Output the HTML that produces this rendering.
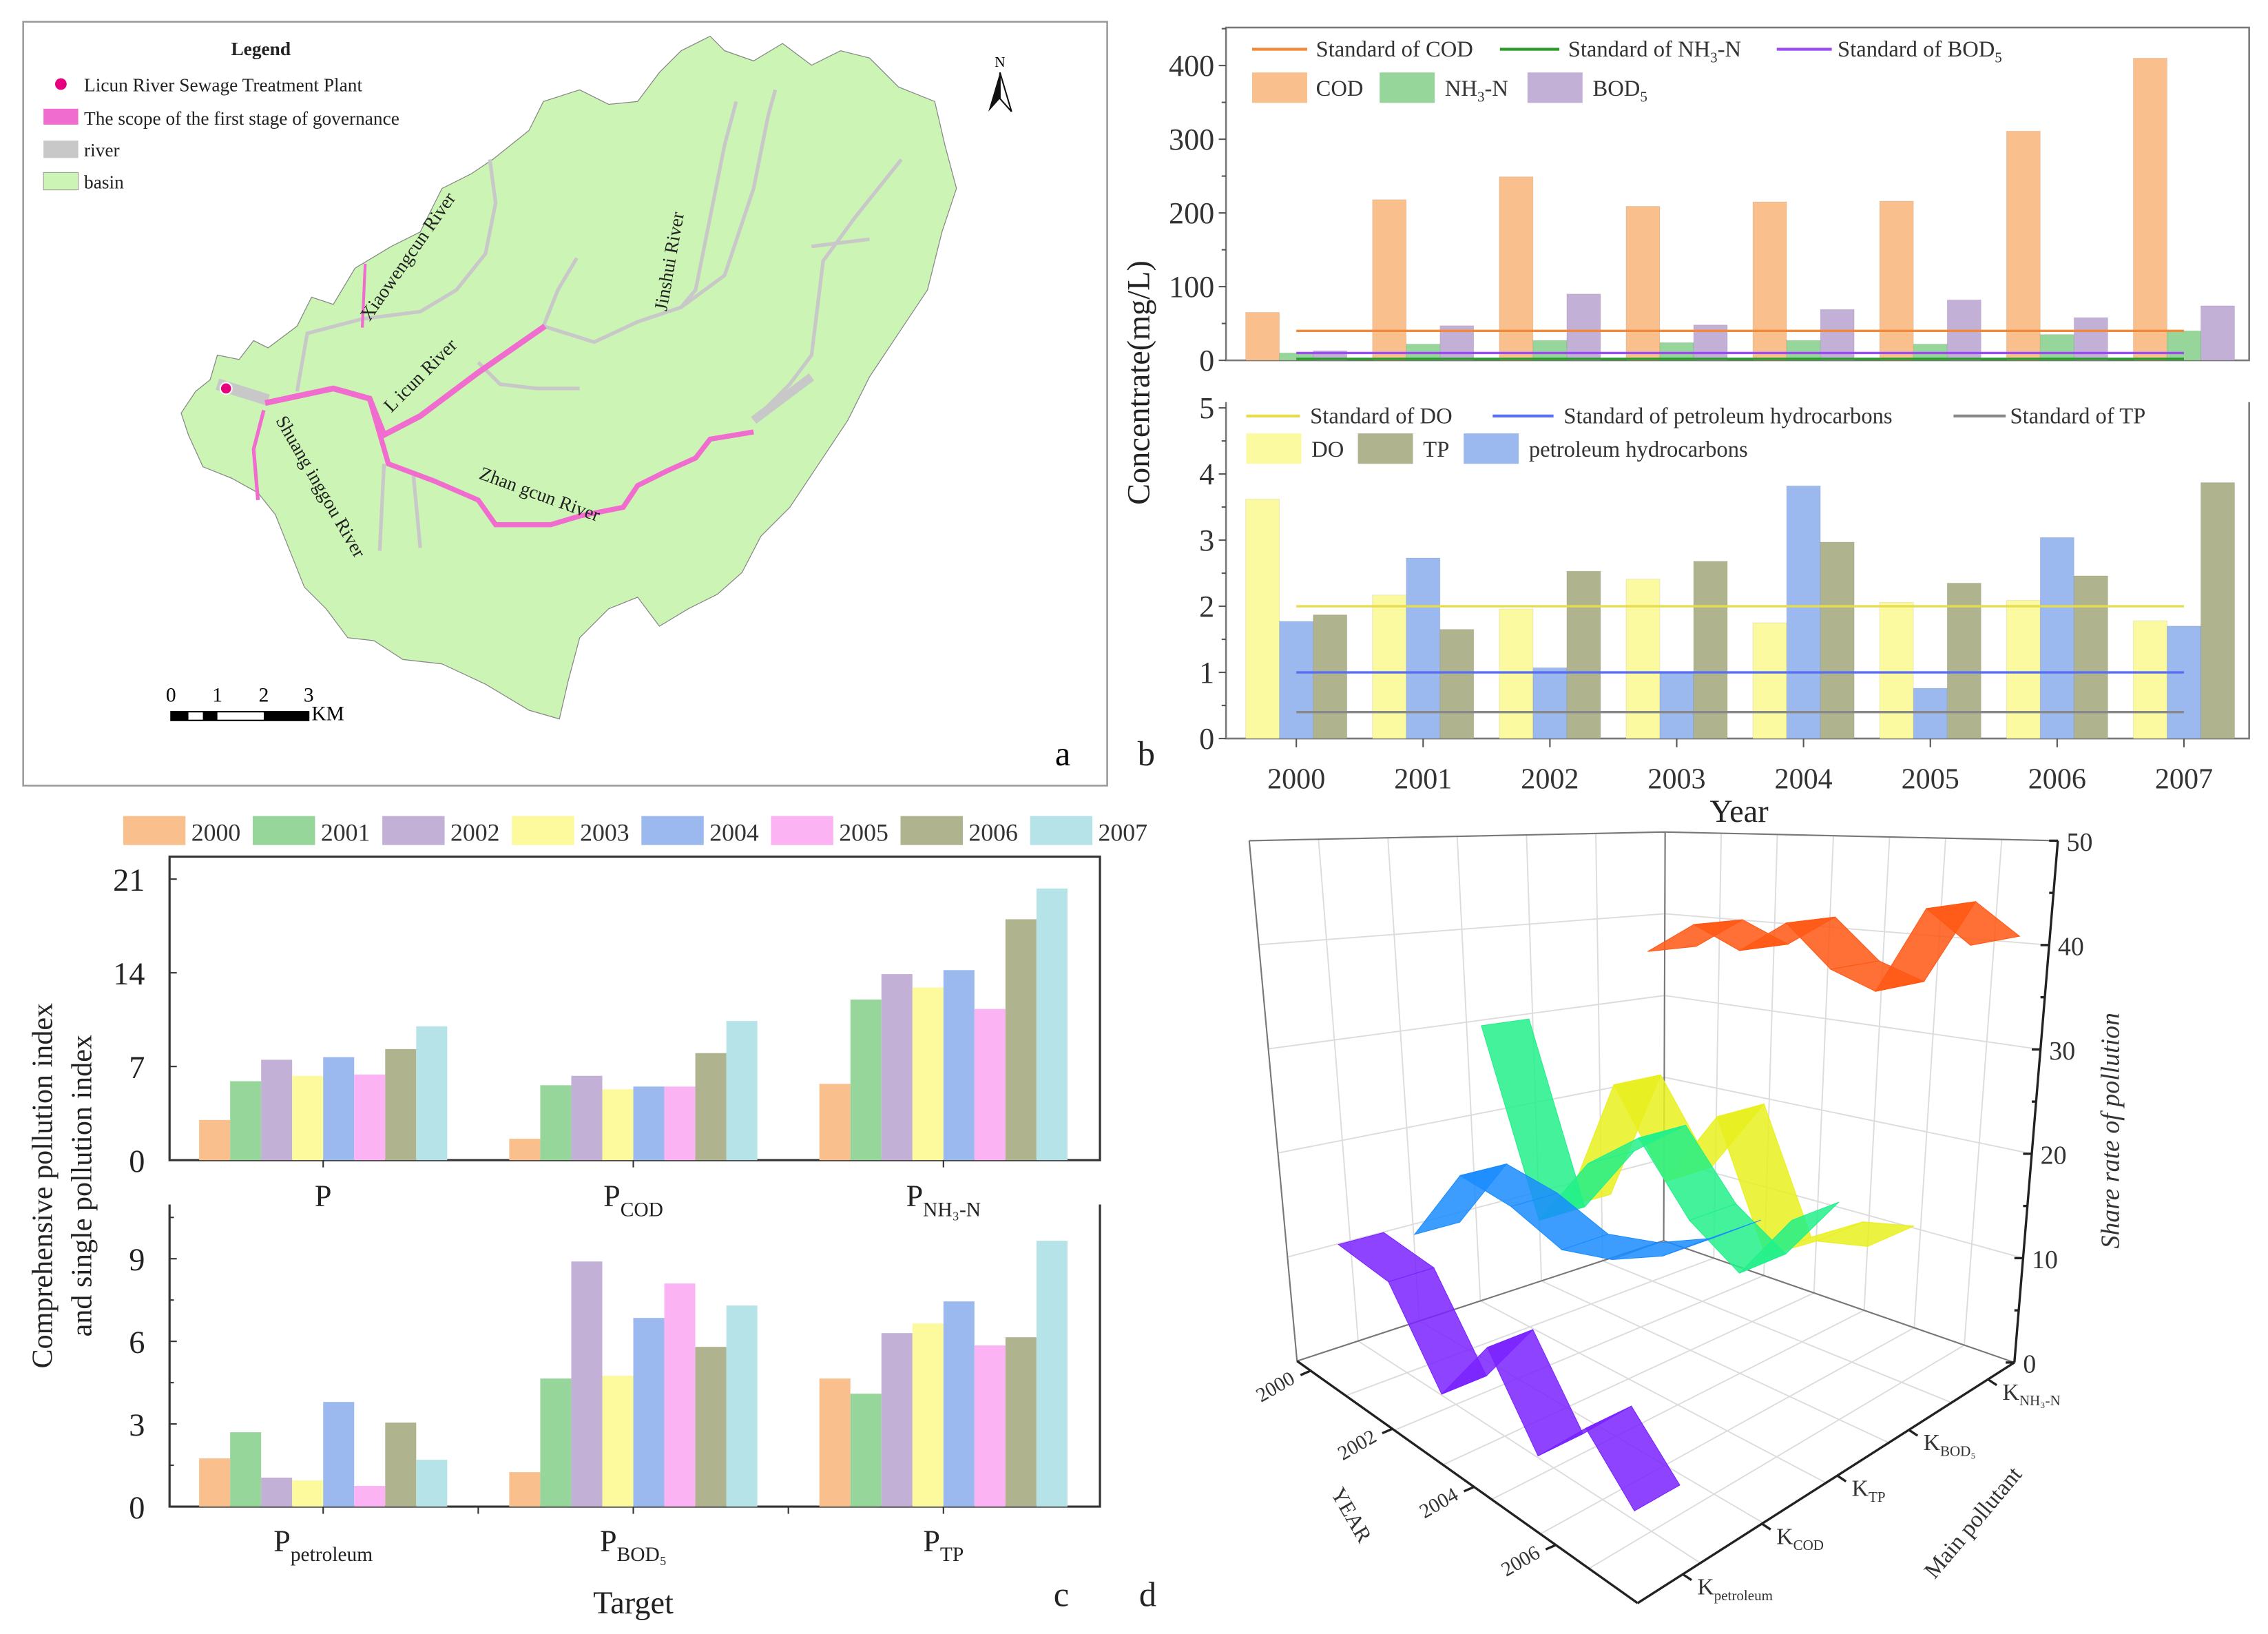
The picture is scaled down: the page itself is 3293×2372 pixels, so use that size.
<!DOCTYPE html>
<html><head><meta charset="utf-8"><style>
html,body{margin:0;padding:0;background:#fff;}
svg{display:block;}
text{font-family:"Liberation Serif",serif;}
</style></head><body>
<svg id="fig" xmlns="http://www.w3.org/2000/svg" width="3293" height="2372" viewBox="0 0 1565 1127.3" preserveAspectRatio="none" font-family="Liberation Serif, serif">
<rect x="0" y="0" width="1565" height="1127.3" fill="#fff"/>
<g>
<rect x="16" y="15" width="748" height="527" fill="#fff" stroke="#999" stroke-width="1.2"/>
<polygon fill="#ccf5b5" stroke="#888" stroke-width="0.6" points="145,262 150,245 165,248 175,235 185,240 205,225 215,205 230,210 245,185 270,170 290,160 305,130 325,120 340,110 365,90 375,70 400,62 420,72 440,70 455,50 470,35 490,25 500,35 520,42 540,30 560,45 580,35 600,40 620,60 645,70 652,100 660,130 650,160 640,200 620,230 600,260 585,290 565,320 545,350 525,370 512,395 495,410 475,420 455,432 440,412 420,420 400,440 392,470 386,496 365,490 335,472 305,458 278,455 258,442 240,440 225,420 210,405 200,380 190,355 178,340 160,330 140,322 130,300 125,285 135,270"/>
<g fill="none" stroke="#c8c8c8" stroke-width="2.5">
<polyline points="205,270 212,230 250,220 290,215 315,200 335,175 342,140 338,110"/>
<polyline points="375,225 410,236 440,222 470,212 480,200 490,150 500,100 508,70"/>
<polyline points="470,212 500,190 520,130 530,80 535,62"/>
<polyline points="520,290 545,265 560,245 568,180 590,150 622,110"/>
<polyline points="560,170 600,165"/>
<polyline points="265,320 262,380"/>
<polyline points="285,325 290,378"/>
<polyline points="330,250 345,265 370,268 400,268"/>
<polyline points="375,225 385,200 398,178"/>
<polyline points="520,290 560,260" stroke-width="6"/>
<polyline points="150,265 185,276" stroke-width="8"/>
</g>
<g fill="none" stroke="#f06ccf">
<polyline points="183,278 230,268 255,275 265,300 290,287 330,257 376,225" stroke-width="4"/>
<polyline points="255,275 268,320 300,332 330,345 342,362 380,362 400,356 430,350 440,335 460,325 480,316 490,303 520,298" stroke-width="3.5"/>
<polyline points="182,283 175,310 178,345" stroke-width="2.5"/>
<polyline points="250,226 252,182" stroke-width="2"/>
</g>
<circle cx="156" cy="268" r="4" fill="#e6007e" stroke="#fff" stroke-width="1"/>
<g font-size="13" fill="#222">
<text x="255" y="222" transform="rotate(-55 255 222)">Xiaowengcun River</text>
<text x="460" y="215" transform="rotate(-80 460 215)">Jinshui River</text>
<text x="270" y="285" transform="rotate(-45 270 285)">L  icun River</text>
<text x="190" y="290" transform="rotate(60 190 290)">Shuang inggou River</text>
<text x="330" y="330" transform="rotate(20 330 330)">Zhan gcun River</text>
</g>
<g font-size="13" fill="#222">
<text x="180" y="38" font-weight="bold" text-anchor="middle">Legend</text>
<circle cx="42" cy="58" r="4" fill="#e6007e"/>
<text x="58" y="63">Licun River Sewage Treatment Plant</text>
<rect x="30" y="75" width="24" height="11" fill="#f06ccf"/>
<text x="58" y="86">The scope of the first stage of governance</text>
<rect x="30" y="97" width="24" height="12" fill="#c8c8c8"/>
<text x="58" y="108">river</text>
<rect x="30" y="119" width="24" height="12" fill="#ccf5b5" stroke="#999" stroke-width="0.5"/>
<text x="58" y="130">basin</text>
</g>
<g>
<text x="690" y="46" font-size="10" text-anchor="middle">N</text>
<polygon points="690,50 682,77 690,68" fill="#111"/><polygon points="690,50 698,77 690,68" fill="#fff" stroke="#111" stroke-width="1"/>
</g>
<g font-size="14">
<rect x="118" y="491" width="95" height="6" fill="#fff" stroke="#000" stroke-width="1"/>
<rect x="118" y="491" width="12" height="6" fill="#000"/><rect x="140" y="491" width="10" height="6" fill="#000"/><rect x="182" y="491" width="31" height="6" fill="#000"/>
<text x="118" y="484" text-anchor="middle">0</text><text x="150" y="484" text-anchor="middle">1</text><text x="182" y="484" text-anchor="middle">2</text><text x="213" y="484" text-anchor="middle">3</text>
<text x="215" y="497">KM</text>
</g>
<text x="728" y="528" font-size="24" font-family="Liberation Sans, sans-serif">a</text>
</g>
<g id="pb"></g>
<g id="pc"></g>
<g id="pd"></g>
</svg>
<script>
// ---------- Panel b data ----------
const yearsB = ['2000','2001','2002','2003','2004','2005','2006','2007'];
const codVals = [65,218,249,209,215,216,311,410];
const nh3Vals = [10,22,27,24,27,22,35,40];
const bodVals = [13,47,90,48,69,82,58,74];
const stdCOD = 40, stdNH3 = 2, stdBOD = 10;
const doVals = [3.62,2.17,1.96,2.41,1.75,2.06,2.09,1.78];
const petVals = [1.77,2.73,1.07,1.0,3.82,0.76,3.04,1.70];
const tpVals = [1.87,1.65,2.53,2.68,2.97,2.35,2.46,3.87];
const stdDO = 2, stdPet = 1, stdTP = 0.4;
const topTicks = [0,100,200,300,400];
const botTicks = [0,1,2,3,4,5];
// ---------- Panel c data ----------
const yearsC = ['2000','2001','2002','2003','2004','2005','2006','2007'];
const catsTop = ['P','COD','NH₃-N'];
const catsBot = ['petroleum','BOD₅','TP'];
const idxP = [3.0,5.9,7.5,6.3,7.7,6.4,8.3,10.0];
const idxCOD = [1.6,5.6,6.3,5.3,5.5,5.5,8.0,10.4];
const idxNH3 = [5.7,12.0,13.9,12.9,14.2,11.3,18.0,20.3];
const idxPet = [1.75,2.7,1.05,0.95,3.8,0.75,3.05,1.7];
const idxBOD = [1.25,4.65,8.9,4.75,6.85,8.1,5.8,7.3];
const idxTP = [4.65,4.1,6.3,6.65,7.45,5.85,6.15,9.65];
const cTicksTop = [0,7,14,21];
const cTicksBot = [0,3,6,9];
// ---------- Panel d data ----------
const yearTicksD = ['2000','2002','2004','2006'];
const pollutantsD = ['petroleum','COD','TP','BOD₅','NH₃-N'];
const sharePet = [11,10,2.5,9,2.5,7,3];
const shareCOD = [10,18,17,15,16,18,21];
const shareTP = [30,11.5,19,23,17,14,20];
const shareBOD = [8.5,23.6,15,23,11,14,15];
const shareNH3 = [36,39.7,37.3,40.8,36.4,34.7,43.4,40.2];
const zTicks = [0,10,20,30,40,50];

const NS='http://www.w3.org/2000/svg';
function mk(tag, attrs, parent){const e=document.createElementNS(NS,tag);for(const k in attrs)e.setAttribute(k,attrs[k]);parent.appendChild(e);return e;}
function txt(s,attrs,parent){const e=mk('text',attrs,parent);if(!attrs['font-family'])e.setAttribute('font-family','Liberation Serif, serif');e.textContent=s;return e;}

// ================= Panel b =================
(function(){
const g=document.getElementById('pb');
const L=846, R=1552, topY0=248.6, topY400=45.2, botY0=509.5, botY5=281.4;
const xY=i=>894.5+i*87.5;
const yT=v=>topY0-v*(topY0-topY400)/400;
const yB=v=>botY0-v*(botY0-botY5)/5;
const bw=23.3;
let e;
e=mk('rect',{x:L,y:19,width:R-L,height:topY0-19,fill:'none',stroke:'#777','stroke-width':1.2},g);


e=mk('path',{d:`M${L},${botY5-4} V${botY0} H${R} V${botY5-4}`,fill:'none',stroke:'#777','stroke-width':1.2},g);


const topSeries=[[codVals,'#f9c08e','cod'],[nh3Vals,'#97d69b','nh3n'],[bodVals,'#c3b0d6','bod5']];
topSeries.forEach((s,k)=>{s[0].forEach((v,i)=>{
 const x=xY(i)+(k-1)*bw-bw/2;
 e=mk('rect',{x:x,y:yT(v),width:bw,height:topY0-yT(v),fill:s[1],stroke:'rgba(0,0,0,0.08)','stroke-width':0.5},g);
 
 
});});
const botSeries=[[doVals,'#fcfaa0','do'],[petVals,'#9bb9ee','petroleum'],[tpVals,'#b0b48e','tp']];
botSeries.forEach((s,k)=>{s[0].forEach((v,i)=>{
 const x=xY(i)+(k-1)*bw-bw/2;
 e=mk('rect',{x:x,y:yB(v),width:bw,height:botY0-yB(v),fill:s[1],stroke:'rgba(0,0,0,0.08)','stroke-width':0.5},g);
 
 
});});
[[stdCOD,'#f08a3a','std-cod',yT],[stdNH3,'#2a9a2a','std-nh3n',yT],[stdBOD,'#9b4cf0','std-bod5',yT],[stdDO,'#e6dc50','std-do',yB],[stdPet,'#5a6ef0','std-petroleum',yB],[stdTP,'#888','std-tp',yB]].forEach(s=>{
 e=mk('line',{x1:xY(0),x2:xY(7),y1:s[3](s[0]),y2:s[3](s[0]),stroke:s[1],'stroke-width':1.6},g);
 
 
});
topTicks.forEach(v=>{
 mk('line',{x1:L-5,x2:L,y1:yT(v),y2:yT(v),stroke:'#555'},g);
 mk('line',{x1:L-3,x2:L,y1:yT(v+50),y2:yT(v+50),stroke:'#555'},g);
 e=txt(String(v),{x:L-8,y:yT(v)+7,'font-size':21,'text-anchor':'end',fill:'#333'},g);
 
 
});
botTicks.forEach(v=>{
 mk('line',{x1:L-5,x2:L,y1:yB(v),y2:yB(v),stroke:'#555'},g);
 if(v<5)mk('line',{x1:L-3,x2:L,y1:yB(v+0.5),y2:yB(v+0.5),stroke:'#555'},g);
 e=txt(String(v),{x:L-8,y:yB(v)+7,'font-size':21,'text-anchor':'end',fill:'#333'},g);
 
 
});
yearsB.forEach((y,i)=>{
 mk('line',{x1:xY(i),x2:xY(i),y1:botY0,y2:botY0+6,stroke:'#555'},g);
 e=txt(y,{x:xY(i),y:544,'font-size':20,'text-anchor':'middle',fill:'#333'},g);
 
 
});
e=txt('Year',{x:1200,y:567,'font-size':22,'text-anchor':'middle',fill:'#222'},g);


e=txt('Concentrate(mg/L)',{x:793,y:264,'font-size':22,'text-anchor':'middle',fill:'#222',transform:'rotate(-90 793 264)','font-family':'Liberation Sans, sans-serif'},g);


e=txt('b',{x:785,y:528,'font-size':24,fill:'#222','font-family':'Liberation Sans, sans-serif'},g);


function legLine(x1,x2,y,c,label,tx,name){
 mk('line',{x1:x1,x2:x2,y1:y,y2:y,stroke:c,'stroke-width':2},g);
 const t=mk('text',{x:tx,y:y+5,'font-size':15.5,fill:'#333','font-family':'Liberation Serif, serif'},g);t.innerHTML=label;
 
 
}
function legBox(x,y,c,label,tx,name){
 mk('rect',{x:x,y:y-10,width:38,height:21,fill:c},g);
 const t=mk('text',{x:tx,y:y+6,'font-size':15.5,fill:'#333','font-family':'Liberation Serif, serif'},g);t.innerHTML=label;
 
 
}
legLine(864,902,34,'#f08a3a','Standard of COD',908,'legend-std-cod');
legLine(1035,1076,34,'#2a9a2a','Standard of NH<tspan font-size="10" dy="4">3</tspan><tspan dy="-4">-N</tspan>',1082,'legend-std-nh3n');
legLine(1226,1264,34,'#9b4cf0','Standard of BOD<tspan font-size="10" dy="4">5</tspan>',1268,'legend-std-bod5');
legBox(864,60,'#f9c08e','COD',908,'legend-cod');
legBox(952,60,'#97d69b','NH<tspan font-size="10" dy="4">3</tspan><tspan dy="-4">-N</tspan>',997,'legend-nh3n');
legBox(1054,60,'#c3b0d6','BOD<tspan font-size="10" dy="4">5</tspan>',1099,'legend-bod5');
legLine(860,897,287,'#e6dc50','Standard of DO',904,'legend-std-do');
legLine(1030,1072,287,'#5a6ef0','Standard of petroleum hydrocarbons',1079,'legend-std-petroleum');
legLine(1348,1384,287,'#888','Standard of TP',1387,'legend-std-tp');
legBox(860,309,'#fcfaa0','DO',905,'legend-do');
legBox(937,309,'#b0b48e','TP',982,'legend-tp');
legBox(1010,309,'#9bb9ee','petroleum hydrocarbons',1055,'legend-petroleum');
})();

// ================= Panel c =================
(function(){
const g=document.getElementById('pc');
const L=117, R=759, t0=800.4, t21=606.5, b0=1039.4;
const cx=k=>223+k*214;
const yA=v=>t0-v*(t0-t21)/21;
const yBb=v=>b0-v*57/3;
const bw=21.4;
const cols=['#f9c08e','#97d69b','#c3b0d6','#fcfa9d','#9bb9ee','#fbb3f3','#b0b48e','#b6e3e8'];
let e;
e=mk('rect',{x:L,y:591,width:R-L,height:t0-591,fill:'none',stroke:'#333','stroke-width':1.5},g);


e=mk('path',{d:`M${L},831 V${b0} H${R} V831`,fill:'none',stroke:'#333','stroke-width':1.5},g);


const topData=[idxP,idxCOD,idxNH3], botData=[idxPet,idxBOD,idxTP];
topData.forEach((arr,k)=>arr.forEach((v,i)=>{
 const x=cx(k)+(i-4)*bw;
 e=mk('rect',{x:x,y:yA(v),width:bw,height:t0-yA(v),fill:cols[i]},g);
 
 
}));
botData.forEach((arr,k)=>arr.forEach((v,i)=>{
 const x=cx(k)+(i-4)*bw;
 e=mk('rect',{x:x,y:yBb(v),width:bw,height:b0-yBb(v),fill:cols[i]},g);
 
 
}));
cTicksTop.forEach(v=>{
 mk('line',{x1:L,x2:L+5,y1:yA(v),y2:yA(v),stroke:'#333'},g);
 e=txt(String(v),{x:100,y:yA(v)+8,'font-size':22,'text-anchor':'end',fill:'#222'},g);
 
 
});
cTicksBot.forEach(v=>{
 mk('line',{x1:L,x2:L+5,y1:yBb(v),y2:yBb(v),stroke:'#333'},g);
 mk('line',{x1:L,x2:L+3,y1:yBb(v+1.5),y2:yBb(v+1.5),stroke:'#333'},g);
 e=txt(String(v),{x:100,y:yBb(v)+8,'font-size':22,'text-anchor':'end',fill:'#222'},g);
 
 
});
for(let k=0;k<3;k++){
 mk('line',{x1:cx(k),x2:cx(k),y1:t0,y2:t0+5,stroke:'#333'},g);
 mk('line',{x1:cx(k),x2:cx(k),y1:b0,y2:b0+5,stroke:'#333'},g);
 if(k<2)mk('line',{x1:cx(k)+107,x2:cx(k)+107,y1:b0,y2:b0+5,stroke:'#333'},g);
}
function catLabel(x,y,sub,name){
 const t=mk('text',{x:x,y:y,'font-size':21,'text-anchor':'middle',fill:'#222','font-family':'Liberation Serif, serif'},g);
 t.innerHTML='P'+(sub?'<tspan font-size="14" dy="7">'+sub+'</tspan>':'');
 
 
}
catLabel(cx(0),832,'', 'category-p');
catLabel(cx(1),832,catsTop[1],'category-pcod');
catLabel(cx(2),832,catsTop[2],'category-pnh3n');
catLabel(cx(0),1070,catsBot[0],'category-ppetroleum');
catLabel(cx(1),1070,catsBot[1],'category-pbod5');
catLabel(cx(2),1070,catsBot[2],'category-ptp');
e=txt('Target',{x:437,y:1113,'font-size':22,'text-anchor':'middle',fill:'#222'},g);


e=txt('Comprehensive pollution index',{x:36,y:818,'font-size':20,'text-anchor':'middle',fill:'#222',transform:'rotate(-90 36 818)','font-family':'Liberation Sans, sans-serif'},g);


e=txt('and single pollution index',{x:63,y:818,'font-size':20,'text-anchor':'middle',fill:'#222',transform:'rotate(-90 63 818)','font-family':'Liberation Sans, sans-serif'},g);


yearsC.forEach((y,i)=>{
 const x=85+i*89.4;
 e=mk('rect',{x:x,y:563,width:43,height:20,fill:cols[i]},g);
 
 
 e=txt(y,{x:x+47,y:580,'font-size':17,fill:'#333'},g);
 
 
});
e=txt('c',{x:727,y:1108,'font-size':24,fill:'#222','font-family':'Liberation Sans, sans-serif'},g);


})();

// ================= Panel d =================
(function(){
const g=document.getElementById('pd');
const C={L:[895,939],F:[1130,1106],R:[1390,940],B:[1148,856]};
const T={L:[862,580],F:[1133,610],R:[1420,580],B:[1149,574]};
function bil(K,u,v,j){return K.L[j]*(1-u)*(1-v)+K.F[j]*u*(1-v)+K.R[j]*u*v+K.B[j]*(1-u)*v;}
function P(u,v,z){
 const s=z/50;
 return [bil(C,u,v,0)*(1-s)+bil(T,u,v,0)*s, bil(C,u,v,1)*(1-s)+bil(T,u,v,1)*s];
}
const uY=(i,n)=>0.04+i*0.84/(n-1);
const vPol=[0.1,0.3,0.5,0.7,0.92];
let e;
const grid=mk('g',{stroke:'#dcdcdc','stroke-width':0.9,fill:'none'},g);


function ln(a,b,par){mk('line',{x1:a[0],y1:a[1],x2:b[0],y2:b[1]},par);}
zTicks.forEach(z=>{ln(P(0,0,z),P(0,1,z),grid);ln(P(0,1,z),P(1,1,z),grid);});
for(let i=0;i<=7;i++){const u=i/7;ln(P(u,0,0),P(u,1,0),grid);ln(P(u,1,0),P(u,1,50),grid);}
for(let i=0;i<=6;i++){const v=i/6;ln(P(0,v,0),P(0,v,50),grid);ln(P(0,v,0),P(1,v,0),grid);}
const edges=mk('g',{stroke:'#777','stroke-width':1,fill:'none'},g);
[[P(0,0,0),P(0,0,50)],[P(0,1,0),P(0,1,50)],[P(0,0,50),P(0,1,50)],[P(0,1,50),P(1,1,50)],[P(0,0,0),P(0,1,0)],[P(0,1,0),P(1,1,0)]].forEach(s=>ln(s[0],s[1],edges));
const series=[[shareNH3,4,'#ff5714','nh3n'],[shareBOD,3,'#e8f01e','bod5'],[shareTP,2,'#22f08a','tp'],[shareCOD,1,'#1a8cff','cod'],[sharePet,0,'#7a22ff','petroleum']];
series.forEach(s=>{
 const arr=s[0],v=vPol[s[1]],w=0.12,n=arr.length;
 for(let i=0;i<n-1;i++){
  const a=P(uY(i,n),v,arr[i]),b=P(uY(i+1,n),v,arr[i+1]),c=P(uY(i+1,n),v+w,arr[i+1]),d=P(uY(i,n),v+w,arr[i]);
  e=mk('polygon',{points:`${a} ${b} ${c} ${d}`,fill:s[2],'fill-opacity':0.85,stroke:s[2],'stroke-width':0.5},g);
  
  
 }
});
const ax=mk('g',{stroke:'#222','stroke-width':1.6,fill:'none'},g);
ln(C.L,C.F,ax);ln(C.F,C.R,ax);ln(P(1,1,0),P(1,1,50),ax);
zTicks.forEach(z=>{const p=P(1,1,z);
 mk('line',{x1:p[0],y1:p[1],x2:p[0]-6,y2:p[1]},ax);
 if(z<50){const q=P(1,1,z+5);mk('line',{x1:q[0],y1:q[1],x2:q[0]-3,y2:q[1]},ax);}
 e=txt(String(z),{x:p[0]+6,y:p[1]+7,'font-size':18,fill:'#333'},g);
 
 
});
yearTicksD.forEach((y,k)=>{const p=P(uY(k*2,8),0,0);
 mk('line',{x1:p[0],y1:p[1],x2:p[0]-7,y2:p[1]+3},ax);
 e=txt(y,{x:p[0]-10,y:p[1]+8,'font-size':14,'text-anchor':'end',fill:'#333',transform:`rotate(-30 ${p[0]-10} ${p[1]+8})`},g);
 
 
});
const vTick=[0.12,0.33,0.53,0.72,0.93];
pollutantsD.forEach((n,k)=>{const p=P(1,vTick[k],0);
 mk('line',{x1:p[0],y1:p[1],x2:p[0]+6,y2:p[1]+4},ax);
 const t=mk('text',{x:p[0]+10,y:p[1]+14,'font-size':16,fill:'#333','font-family':'Liberation Serif, serif'},g);
 t.innerHTML='K<tspan font-size="10" dy="4">'+n+'</tspan>';
 
 
});
e=txt('YEAR',{x:918,y:1030,'font-size':15,fill:'#333',transform:'rotate(60 918 1030)'},g);


e=txt('Main pollutant',{x:1335,y:1090,'font-size':16,fill:'#333',transform:'rotate(-50 1335 1090)'},g);


e=txt('Share rate of pollution',{x:1462,y:780,'font-size':18,'font-style':'italic','text-anchor':'middle',fill:'#333',transform:'rotate(-90 1462 780)'},g);


e=txt('d',{x:786,y:1108,'font-size':24,fill:'#222','font-family':'Liberation Sans, sans-serif'},g);


})();
</script>
</body></html>
